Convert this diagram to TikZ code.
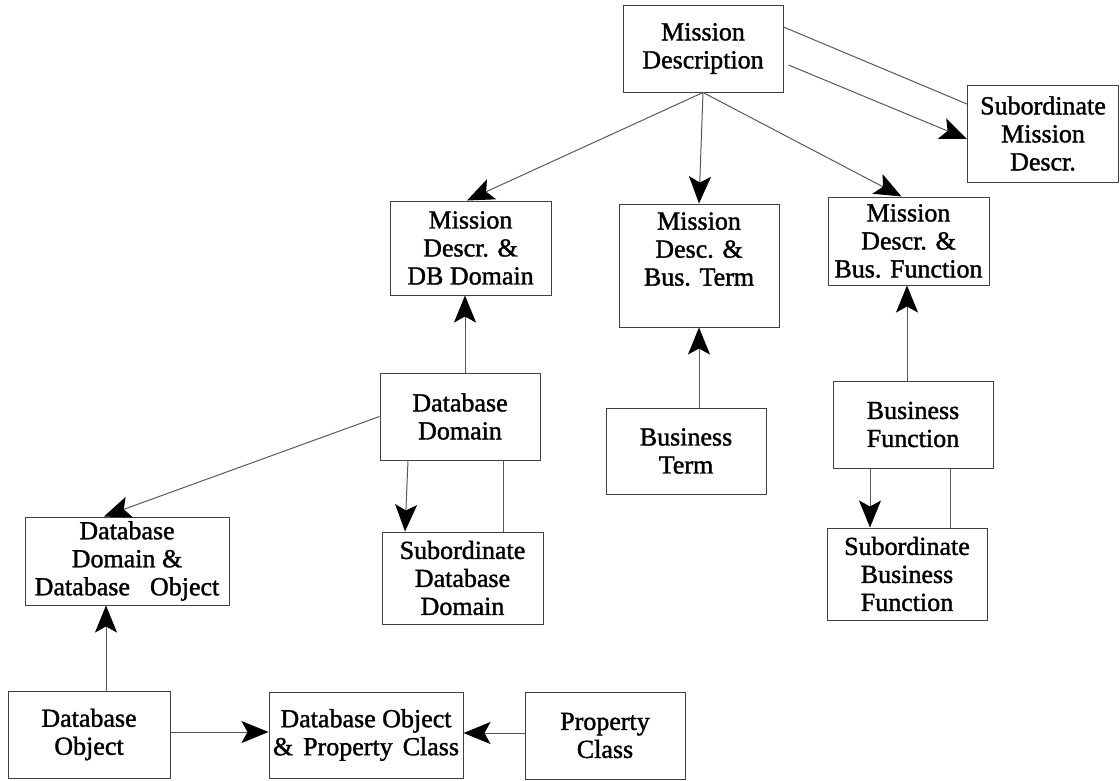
\documentclass[tikz,border=0pt]{standalone}
\usepackage{fontspec}
\setmainfont{Liberation Serif}
\newfontfamily\boxfont[FakeBold=1.4]{Liberation Serif}
\usepackage{tikz}
\usetikzlibrary{arrows.meta, positioning}

\tikzset{
  entity/.style={draw=black!75, line width=1pt, inner sep=0pt, align=center,
    font=\boxfont\fontsize{26}{28}\selectfont},
  link/.style={draw=black!65, line width=1pt},
  arr/.style={link, -{Stealth[length=27pt, width=22pt, inset=6pt, black]}}
}

\begin{document}
\begin{tikzpicture}[x=1pt, y=-1pt]
      \useasboundingbox (0,0) rectangle (1120,780);

      % Top level
      \node[entity, minimum width=160pt, minimum height=87pt] (mdesc) at (703,48.5) {Mission\\Description};
      \node[entity, minimum width=151pt, minimum height=97pt] (submd) at (1043,133.5) {Subordinate\\Mission\\Descr.};

      % Second row
      \node[entity, minimum width=161pt, minimum height=94pt] (mddb) at (470.5,248) {Mission\\Descr. \&\\DB Domain};
      \node[entity, minimum width=160pt, minimum height=123pt, text depth=33pt] (mdbt) at (699,265.5) {Mission\\Desc. \&\\Bus. Term};
      \node[entity, minimum width=161pt, minimum height=88pt] (mdbf) at (908.5,241) {Mission\\Descr. \&\\Bus. Function};

      % Third row
      \node[entity, minimum width=160pt, minimum height=87pt] (dbdom) at (460,416.5) {Database\\Domain};
      \node[entity, minimum width=160pt, minimum height=86pt] (busterm) at (686,451) {Business\\Term};
      \node[entity, minimum width=160pt, minimum height=87pt] (busfn) at (913,424.5) {Business\\Function};

      % Fourth row
      \node[entity, minimum width=204pt, minimum height=88pt] (dddo) at (127,561) {Database\\Domain \&\\Database\hspace{20pt}Object};
      \node[entity, minimum width=161pt, minimum height=92pt] (subdb) at (462.5,578) {Subordinate\\Database\\Domain};
      \node[entity, minimum width=160pt, minimum height=92pt] (subbf) at (907,574) {Subordinate\\Business\\Function};

      % Bottom row
      \node[entity, minimum width=162pt, minimum height=87pt] (dbobj) at (89,734.5) {Database\\Object};
      \node[entity, minimum width=194pt, minimum height=86pt] (dopc) at (366,735) {Database Object\\\&\hspace{10pt}Property\hspace{10pt}Class};
      \node[entity, minimum width=160pt, minimum height=87pt] (propcl) at (605,735.5) {Property\\Class};

      % Connectors from mission description
      \draw[arr] (mdesc.south) -- ([xshift=-3.5pt]mddb.north);
      \draw[arr] (mdesc.south) -- (mdbt.north);
      \draw[arr] (mdesc.south) -- ([xshift=-7pt]mdbf.north);
      \draw[link] ([yshift=21.5pt]mdesc.east) -- ([yshift=29.5pt]submd.west);
      \draw[arr] ([xshift=5pt, yshift=-16.5pt]mdesc.east) -- ([yshift=-5.5pt]submd.west);

      % Database domain
      \draw[arr] ([xshift=5pt]dbdom.north) -- ([xshift=-5.5pt]mddb.south);
      \draw[arr] (dbdom.west) -- ([xshift=-23pt]dddo.north);
      \draw[arr] ([xshift=-52pt]dbdom.south) -- ([xshift=-57.5pt]subdb.north);
      \draw[link] ([xshift=40.5pt]subdb.north) -- ([xshift=43pt]dbdom.south);

      % Business term and function
      \draw[arr] ([xshift=13pt]busterm.north) -- (mdbt.south);
      \draw[arr] ([xshift=-6pt]busfn.north) -- ([xshift=-1.5pt]mdbf.south);
      \draw[arr] ([xshift=-43pt]busfn.south) -- ([xshift=-37pt]subbf.north);
      \draw[link] ([xshift=43pt]subbf.north) -- ([xshift=37pt]busfn.south);

      % Database object and property class
      \draw[arr] ([xshift=17pt]dbobj.north) -- ([xshift=-21pt]dddo.south);
      \draw[arr] ([yshift=2.5pt]dbobj.east) -- ([yshift=2.5pt]dbobj.east -| dopc.west);
      \draw[arr] ([yshift=2.5pt]propcl.west) -- ([yshift=2.5pt]propcl.west -| dopc.east);

\end{tikzpicture}
\end{document}
